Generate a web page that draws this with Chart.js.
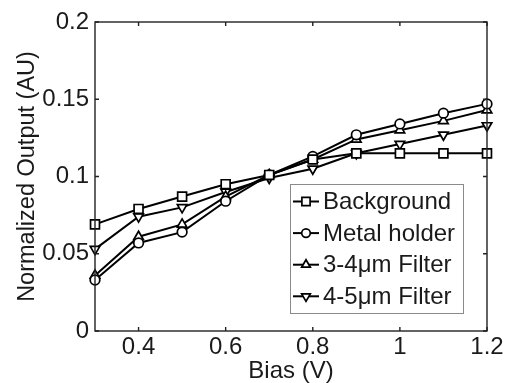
<!DOCTYPE html>
<html>
<head>
<meta charset="utf-8">
<script src="https://cdn.jsdelivr.net/npm/chart.js@4/dist/chart.umd.min.js"></script>
<style>
  html, body { margin: 0; padding: 0; background: #fff; }
  #wrap { width: 508px; height: 383px; }
</style>
</head>
<body>
<div id="wrap"><canvas id="chart" width="508" height="383"></canvas></div>
<script>
// Bias values (V)
const bias = [0.3, 0.4, 0.5, 0.6, 0.7, 0.8, 0.9, 1.0, 1.1, 1.2];

// Normalized output per sample (AU)
const background  = [0.069, 0.079, 0.087, 0.095, 0.101, 0.111, 0.115, 0.115, 0.115, 0.115];
const metalHolder = [0.033, 0.057, 0.064, 0.084, 0.101, 0.113, 0.127, 0.134, 0.141, 0.147];
const filter34    = [0.036, 0.061, 0.069, 0.087, 0.101, 0.111, 0.124, 0.130, 0.136, 0.143];
const filter45    = [0.053, 0.074, 0.080, 0.090, 0.099, 0.105, 0.115, 0.121, 0.127, 0.133];

const seriesNames = ['Background', 'Metal holder', '3-4\u03bcm Filter', '4-5\u03bcm Filter'];

// Tick positions
const xTicks = [0.4, 0.6, 0.8, 1.0, 1.2];
const yTicks = [0, 0.05, 0.1, 0.15, 0.2];

const FONT = 'Liberation Sans, Arial, sans-serif';
const TEXT = '#1a1a1a';

function toPoints(ys) {
    return bias.map((x, i) => ({ x: x, y: ys[i] }));
}

function makeDataset(label, ys, style, radius, rotation) {
    return {
        label: label,
        data: toPoints(ys),
        borderColor: '#000',
        borderWidth: 2,
        pointStyle: style,
        pointRadius: radius,
        pointRotation: rotation || 0,
        pointBackgroundColor: '#fff',
        pointBorderColor: '#000',
        pointBorderWidth: 1.7,
        tension: 0,
        clip: false
    };
}

// Frame, inward ticks and the boxed legend (Matlab look)
const framePlugin = {
    id: 'frame',
    afterDatasetsDraw(chart) {
        const ctx = chart.ctx;
        const a = chart.chartArea;
        const xs = chart.scales.x;
        const ys = chart.scales.y;
        ctx.save();
        ctx.strokeStyle = '#222';
        ctx.lineWidth = 1.4;
        ctx.strokeRect(a.left, a.top, a.right - a.left, a.bottom - a.top);

        const tl = 4;
        ctx.beginPath();
        xTicks.forEach(v => {
            const px = xs.getPixelForValue(v);
            ctx.moveTo(px, a.bottom); ctx.lineTo(px, a.bottom - tl);
            ctx.moveTo(px, a.top); ctx.lineTo(px, a.top + tl);
        });
        yTicks.forEach(v => {
            const py = ys.getPixelForValue(v);
            ctx.moveTo(a.left, py); ctx.lineTo(a.left + tl, py);
            ctx.moveTo(a.right, py); ctx.lineTo(a.right - tl, py);
        });
        ctx.stroke();
        ctx.restore();
    },
    afterDraw(chart) {
        const ctx = chart.ctx;
        const box = { x: 290, y: 184, w: 173, h: 129 };
        ctx.save();
        ctx.fillStyle = '#fff';
        ctx.fillRect(box.x, box.y, box.w, box.h);
        ctx.strokeStyle = '#8a8a8a';
        ctx.lineWidth = 1;
        ctx.strokeRect(box.x + 0.5, box.y + 0.5, box.w, box.h);

        ctx.font = '24px ' + FONT;
        ctx.textBaseline = 'middle';
        ctx.textAlign = 'left';
        chart.data.datasets.forEach((ds, i) => {
            const cy = 201.5 + i * 31.6;
            ctx.strokeStyle = '#000';
            ctx.lineWidth = 2;
            ctx.beginPath();
            ctx.moveTo(293, cy);
            ctx.lineTo(319, cy);
            ctx.stroke();
            ctx.fillStyle = '#fff';
            ctx.lineWidth = 1.7;
            Chart.helpers.drawPoint(ctx, {
                pointStyle: ds.pointStyle,
                rotation: ds.pointRotation,
                radius: ds.pointRadius - 0.5,
                borderWidth: 1.7
            }, 306, cy);
            ctx.fillStyle = TEXT;
            ctx.fillText(seriesNames[i], 323, cy + 1);
        });
        ctx.restore();
    }
};

const tickFormat = v => String(parseFloat(Number(v).toFixed(2)));

new Chart(document.getElementById('chart'), {
    type: 'line',
    data: {
        datasets: [
            makeDataset(seriesNames[0], background, 'rect', 6.3),
            makeDataset(seriesNames[1], metalHolder, 'circle', 4.8),
            makeDataset(seriesNames[2], filter34, 'triangle', 5.5),
            makeDataset(seriesNames[3], filter45, 'triangle', 5.5, 180)
        ]
    },
    options: {
        responsive: false,
        animation: false,
        layout: { padding: { top: 22, right: 21, left: 0, bottom: 0 } },
        plugins: {
            legend: { display: false },
            tooltip: { enabled: false }
        },
        scales: {
            x: {
                type: 'linear',
                min: 0.3,
                max: 1.2,
                afterBuildTicks: s => { s.ticks = xTicks.map(v => ({ value: v })); },
                afterFit: s => { s.height = 52; },
                grid: { display: false, drawTicks: false },
                border: { display: false },
                ticks: {
                    color: TEXT,
                    font: { family: FONT, size: 24 },
                    padding: 2,
                    maxRotation: 0,
                    callback: tickFormat
                },
                title: {
                    display: true,
                    text: 'Bias (V)',
                    color: TEXT,
                    font: { family: FONT, size: 24, lineHeight: 1 },
                    padding: { top: 0, bottom: 0 }
                }
            },
            y: {
                type: 'linear',
                min: 0,
                max: 0.2,
                afterBuildTicks: s => { s.ticks = yTicks.map(v => ({ value: v })); },
                afterFit: s => { s.width = 95; },
                grid: { display: false, drawTicks: false },
                border: { display: false },
                ticks: {
                    color: TEXT,
                    font: { family: FONT, size: 24 },
                    padding: 6,
                    callback: tickFormat
                },
                title: {
                    display: true,
                    text: 'Normalized Output (AU)',
                    color: TEXT,
                    font: { family: FONT, size: 23.5, lineHeight: 1.2 },
                    padding: { top: 13, bottom: 0 }
                }
            }
        }
    },
    plugins: [framePlugin]
});
</script>
</body>
</html>
